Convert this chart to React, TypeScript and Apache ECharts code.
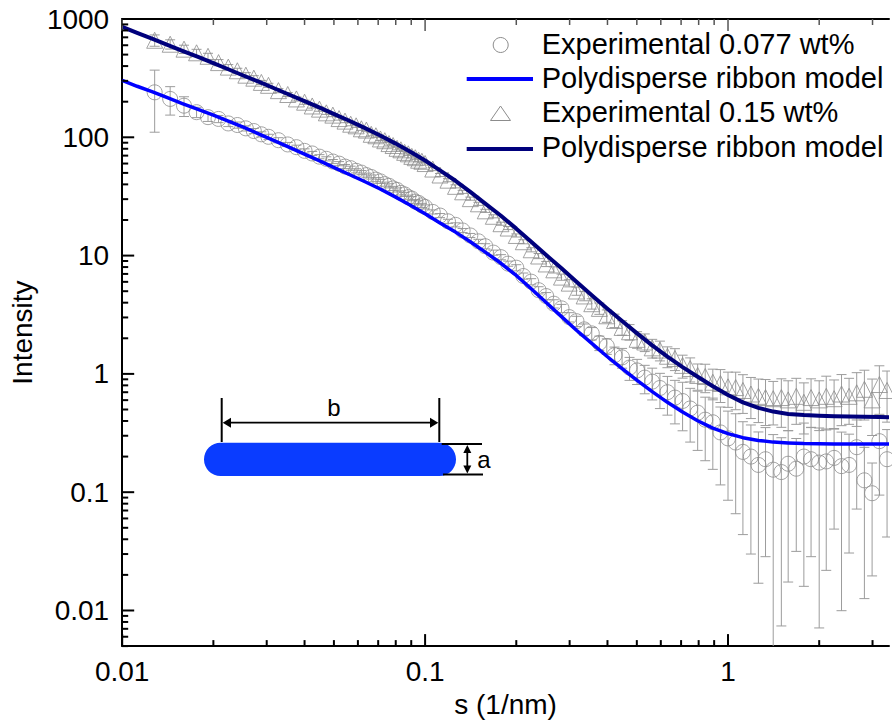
import React, { useEffect, useRef } from 'react';
import * as echarts from 'echarts';

// ---------- data ----------
const S = [
  0.0128, 0.0144, 0.016, 0.0176, 0.0192, 0.0208, 0.0224, 0.024, 0.0256, 0.0272, 0.0288, 0.0304,
  0.0328, 0.0352, 0.0376, 0.04, 0.0424, 0.0448, 0.0472, 0.0496, 0.052, 0.0544, 0.0568, 0.0592,
  0.0616, 0.064, 0.0664, 0.0688, 0.0712, 0.0736, 0.076, 0.0784, 0.0808, 0.0832, 0.0856, 0.088,
  0.0904, 0.0928, 0.0952, 0.0976, 0.1,
  0.106, 0.112, 0.119, 0.126, 0.133, 0.141, 0.15, 0.158, 0.168, 0.178, 0.188, 0.2, 0.211, 0.224,
  0.237, 0.251, 0.266, 0.282, 0.299, 0.316, 0.335, 0.355, 0.376, 0.398, 0.422, 0.447, 0.473, 0.501,
  0.531, 0.562, 0.596, 0.631, 0.668, 0.708, 0.75, 0.794, 0.841, 0.891, 0.944,
  1.0, 1.06, 1.12, 1.19, 1.26, 1.33, 1.41, 1.5, 1.58, 1.68, 1.78, 1.88, 2.0, 2.11, 2.24, 2.37,
  2.51, 2.66, 2.82, 2.99, 3.16, 3.35,
];

const I_077 = [
  240, 211, 185, 163, 148, 143, 131, 127, 119, 113, 106, 101, 94.5, 87.0, 82.5, 76.8, 73.0, 68.6,
  65.8, 62.4, 59.9, 56.6, 54.8, 52.1, 50.3, 47.9, 46.2, 43.9, 42.4, 40.2, 38.9, 37.0, 35.9, 33.9,
  32.9, 31.2, 30.3, 28.6, 27.9, 26.6, 25.8,
  23.4, 21.8, 19.5, 18.2, 16.3, 14.8, 13.2, 12.0, 10.6, 9.7, 8.55, 7.9, 6.72, 6.02, 5.1, 4.55,
  3.92, 3.58, 3.02, 2.79, 2.38, 2.2, 1.83, 1.72, 1.44, 1.38, 1.13, 1.07, 0.93, 0.86, 0.76, 0.7,
  0.63, 0.59, 0.51, 0.47, 0.41, 0.39, 0.32,
  0.285, 0.263, 0.219, 0.2, 0.17, 0.19, 0.155, 0.148, 0.174, 0.158, 0.2, 0.19, 0.178, 0.182,
  0.195, 0.166, 0.17, 0.24, 0.126, 0.098, 0.27, 0.19,
];
// relative errors, percent
const ERR_077 = [
  54, 27, 19, 10, 8, 7, 6, 6, 5, 5, 5, 5, 5, 4, 4, 4, 4, 4, 4, 4, 4, 4, 4, 4, 4, 4, 4, 4, 4, 4,
  4, 4, 4, 4, 4, 4, 4, 4, 4, 4, 4,
  4, 4, 4, 4, 4, 4, 4, 5, 5, 5, 5, 6, 6, 6, 7, 7, 8, 8, 9, 10, 11, 12, 14, 15, 17, 19, 22, 24,
  27, 30, 33, 36, 40, 44, 48, 52, 55, 60, 64,
  70, 75, 80, 85, 90, 85, 98, 95, 90, 80, 92, 85, 96, 88, 75, 94, 82, 70, 90, 80, 65, 78,
];

const I_015 = [
  661, 612, 556, 518, 484, 428, 392, 365, 335, 316, 291, 275, 248, 230, 211, 198, 184, 173, 161,
  154, 144, 137, 129, 125, 118, 115, 106, 103, 96.8, 93.6, 88.5, 85.2, 80.7, 78.4, 74.6, 72.5,
  69.0, 67.2, 64.0, 62.7, 60.0,
  53.9, 48.0, 43.4, 38.5, 34.6, 30.3, 27.4, 23.9, 21.5, 18.6, 17.1, 14.8, 13.1, 11.2, 9.92, 8.5,
  7.58, 6.58, 5.85, 5.02, 4.56, 3.92, 3.58, 3.1, 2.83, 2.47, 2.27, 1.96, 1.86, 1.66, 1.59, 1.41,
  1.35, 1.18, 1.11, 0.97, 0.95, 0.85, 0.83,
  0.778, 0.766, 0.724, 0.676, 0.646, 0.631, 0.617, 0.631, 0.603, 0.646, 0.575, 0.631, 0.603,
  0.646, 0.617, 0.676, 0.646, 0.692, 0.741, 0.603, 0.813, 0.724,
];
const ERR_015 = [
  11, 9, 8, 7, 6, 6, 5, 5, 5, 5, 4, 4, 4, 4, 4, 4, 4, 4, 3, 3, 3, 3, 3, 3, 3, 3, 3, 3, 3, 3, 3,
  3, 3, 3, 3, 3, 3, 3, 3, 3, 3,
  3, 3, 3, 3, 3, 3, 3, 3, 3, 3, 3, 3, 4, 4, 5, 5, 6, 6, 7, 8, 9, 10, 11, 12, 13, 14, 15, 16, 17,
  18, 19, 20, 21, 22, 23, 25, 27, 29, 31,
  33, 35, 36, 38, 40, 42, 40, 44, 45, 42, 46, 44, 45, 48, 44, 46, 42, 48, 45, 50, 44, 46,
];

const MODEL_S = [
  0.01, 0.0112, 0.0126, 0.0141, 0.0158, 0.0178, 0.02, 0.0224, 0.0251, 0.0282, 0.0316, 0.0355,
  0.0398, 0.0447, 0.0501, 0.0562, 0.0631, 0.0708, 0.0794, 0.0891, 0.1, 0.112, 0.126, 0.141, 0.158,
  0.178, 0.2, 0.224, 0.251, 0.282, 0.316, 0.355, 0.398, 0.447, 0.501, 0.562, 0.631, 0.708, 0.794,
  0.891, 1, 1.12, 1.26, 1.41, 1.58, 1.78, 2, 2.24, 2.51, 2.82, 3.16, 3.4,
];
const MODEL_077 = [
  303, 270, 242, 216, 193, 172, 154, 137, 122, 107, 94.3, 82.7, 72.4, 63.5, 55.5, 48.5, 42.3,
  36.7, 31.5, 26.8, 22.6, 18.9, 15.8, 13.1, 10.7, 8.61, 6.79, 5.25, 4.01, 3.05, 2.34, 1.81, 1.41,
  1.11, 0.881, 0.708, 0.575, 0.476, 0.402, 0.348, 0.313, 0.289, 0.274, 0.265, 0.261, 0.258, 0.257,
  0.256, 0.256, 0.256, 0.256, 0.256,
];
const MODEL_015 = [
  857, 764, 680, 605, 538, 478, 424, 376, 333, 295, 261, 230, 203, 179, 157, 138, 120, 104, 89.3,
  75.9, 63.6, 52.6, 42.9, 34.6, 27.5, 21.7, 16.9, 13.1, 10.1, 7.8, 6.0, 4.63, 3.59, 2.8, 2.2,
  1.74, 1.4, 1.14, 0.947, 0.786, 0.663, 0.574, 0.516, 0.48, 0.459, 0.449, 0.443, 0.439, 0.436,
  0.434, 0.432, 0.431,
];

const X_TICK_LABELS = ['0.01', '0.1', '1'];
const Y_TICK_LABELS = ['0.01', '0.1', '1', '10', '100', '1000'];
const LEGEND_LABELS = [
  'Experimental 0.077 wt%',
  'Polydisperse ribbon model',
  'Experimental 0.15 wt%',
  'Polydisperse ribbon model',
];

// ---------- layout / style ----------
const FONT = '"Liberation Sans", Arial, Helvetica, sans-serif';
const X_MIN = 0.01;
const X_MAX = 3.4;
const Y_MIN = 0.005;
const Y_MAX = 1000;
const MARK_GREY = '#8c8c8c';
const BAR_GREY = '#9c9c9c';
const BLUE = '#0000ff';
const NAVY = '#00007c';

function powLabel(v: number): string {
  const e = Math.log10(v);
  const r = Math.round(e);
  if (Math.abs(e - r) > 1e-6) return '';
  const all = [...X_TICK_LABELS, ...Y_TICK_LABELS];
  const txt = r >= 0 ? String(Math.pow(10, r)) : '0.' + '0'.repeat(-r - 1) + '1';
  return all.includes(txt) ? txt : '';
}

function decadeTicks(min: number, max: number) {
  const major: number[] = [];
  const minor: number[] = [];
  for (let e = -4; e <= 4; e++) {
    for (let k = 1; k <= 9; k++) {
      const v = parseFloat((k * Math.pow(10, e)).toPrecision(6));
      if (v < min * 0.999 || v > max * 1.001) continue;
      if (k === 1) major.push(v);
      else minor.push(v);
    }
  }
  return { major, minor };
}

function errorBarData(ys: number[], errs: number[]) {
  return S.map((s, i) => {
    const y = ys[i];
    const d = (y * errs[i]) / 100;
    return [s, Math.max(y - d, Y_MIN * 0.5), y + d];
  });
}

function errorBarSeries(ys: number[], errs: number[]) {
  return {
    type: 'custom',
    silent: true,
    z: 1,
    clip: true,
    encode: { x: 0, y: [1, 2] },
    data: errorBarData(ys, errs),
    renderItem: (_p: any, api: any) => {
      const x = api.value(0);
      const lo = api.coord([x, api.value(1)]);
      const hi = api.coord([x, api.value(2)]);
      const w = 5;
      const st = { stroke: BAR_GREY, lineWidth: 1 };
      return {
        type: 'group',
        children: [
          { type: 'line', shape: { x1: lo[0], y1: lo[1], x2: hi[0], y2: hi[1] }, style: st },
          { type: 'line', shape: { x1: lo[0] - w, y1: lo[1], x2: lo[0] + w, y2: lo[1] }, style: st },
          { type: 'line', shape: { x1: hi[0] - w, y1: hi[1], x2: hi[0] + w, y2: hi[1] }, style: st },
        ],
      };
    },
  };
}

function xTickSeries(vals: number[], len: number) {
  return {
    type: 'custom',
    silent: true,
    z: 20,
    clip: false,
    data: vals.map((v) => [v, 1]),
    renderItem: (_p: any, api: any) => {
      const x = api.value(0);
      const b = api.coord([x, Y_MIN]);
      const t = api.coord([x, Y_MAX]);
      return {
        type: 'group',
        children: [
          { type: 'line', shape: { x1: b[0], y1: b[1], x2: b[0], y2: b[1] - len }, style: { stroke: '#000', lineWidth: 2 } },
          { type: 'line', shape: { x1: t[0], y1: t[1], x2: t[0], y2: t[1] + len }, style: { stroke: '#555', lineWidth: 1.5 } },
        ],
      };
    },
  };
}

function yTickSeries(vals: number[], len: number) {
  return {
    type: 'custom',
    silent: true,
    z: 20,
    clip: false,
    data: vals.map((v) => [1, v]),
    renderItem: (_p: any, api: any) => {
      const y = api.value(1);
      const l = api.coord([X_MIN, y]);
      return {
        type: 'line',
        shape: { x1: l[0], y1: l[1], x2: l[0] + len, y2: l[1] },
        style: { stroke: '#000', lineWidth: 2 },
      };
    },
  };
}

function legendGraphic() {
  const textX = 541.7;
  const rows = [43.5, 78.3, 112, 147];
  const els: any[] = [
    { type: 'circle', z: 100, shape: { cx: 500.7, cy: 45, r: 7.5 }, style: { fill: 'none', stroke: MARK_GREY, lineWidth: 1 } },
    { type: 'line', z: 100, shape: { x1: 466.7, y1: 79, x2: 533, y2: 79 }, style: { stroke: BLUE, lineWidth: 4 } },
    { type: 'polygon', z: 100, shape: { points: [[500.5, 106], [510.5, 120.5], [490.5, 120.5]] }, style: { fill: 'none', stroke: MARK_GREY, lineWidth: 1 } },
    { type: 'line', z: 100, shape: { x1: 466.7, y1: 149, x2: 533, y2: 149 }, style: { stroke: NAVY, lineWidth: 4 } },
  ];
  LEGEND_LABELS.forEach((t, i) => {
    els.push({
      type: 'text', z: 100, x: textX, y: rows[i],
      style: { text: t, fontSize: 29, fontFamily: FONT, fill: '#000', align: 'left', verticalAlign: 'middle', textAlign: 'left', textVerticalAlign: 'middle' },
    });
  });
  return els;
}

export default function App() {
  const ref = useRef<HTMLDivElement>(null);

  useEffect(() => {
    if (!ref.current) return;
    const chart = echarts.init(ref.current, null, { renderer: 'svg' });
    const xt = decadeTicks(X_MIN, X_MAX);
    const yt = decadeTicks(Y_MIN, Y_MAX);
    const labelStyle = { fontSize: 28, color: '#000', fontFamily: FONT };
    const lineW = 2;

    const option: any = {
      animation: false,
      backgroundColor: '#fff',
      grid: { left: 120, right: 0, top: 19, bottom: 74, containLabel: false },
      xAxis: [
        {
          type: 'log',
          logBase: 10,
          min: X_MIN,
          max: X_MAX,
          position: 'bottom',
          axisLine: { show: true, onZero: false, lineStyle: { color: '#000', width: lineW } },
          axisTick: { show: false },
          splitLine: { show: false },
          axisLabel: { ...labelStyle, margin: 11, formatter: (v: number) => powLabel(v) },
          name: 's (1/nm)',
          nameLocation: 'middle',
          nameGap: 40,
          nameTextStyle: { ...labelStyle },
        },
        {
          type: 'log',
          logBase: 10,
          min: X_MIN,
          max: X_MAX,
          position: 'top',
          axisLine: { show: true, onZero: false, lineStyle: { color: '#000', width: lineW } },
          axisTick: { show: false },
          axisLabel: { show: false },
          splitLine: { show: false },
        },
      ],
      yAxis: {
        type: 'log',
        logBase: 10,
        min: Y_MIN,
        max: Y_MAX,
        axisLine: { show: true, onZero: false, lineStyle: { color: '#000', width: lineW } },
        axisTick: { show: false },
        splitLine: { show: false },
        axisLabel: { ...labelStyle, margin: 13, formatter: (v: number) => powLabel(v) },
        name: 'Intensity',
        nameLocation: 'middle',
        nameGap: 80,
        nameTextStyle: { ...labelStyle },
      },
      series: [
        errorBarSeries(I_077, ERR_077),
        errorBarSeries(I_015, ERR_015),
        {
          name: LEGEND_LABELS[0],
          type: 'scatter',
          symbol: 'circle',
          symbolSize: 15,
          z: 2,
          clip: true,
          itemStyle: { color: 'rgba(255,255,255,0)', borderColor: MARK_GREY, borderWidth: 1 },
          data: S.map((s, i) => [s, I_077[i]]),
        },
        {
          name: LEGEND_LABELS[2],
          type: 'scatter',
          symbol: 'triangle',
          symbolSize: 16,
          z: 2,
          clip: true,
          itemStyle: { color: 'rgba(255,255,255,0)', borderColor: MARK_GREY, borderWidth: 1 },
          data: S.map((s, i) => [s, I_015[i]]),
        },
        {
          name: LEGEND_LABELS[1] + ' (0.077 wt%)',
          type: 'line',
          symbol: 'none',
          smooth: false,
          z: 5,
          clip: true,
          itemStyle: { color: BLUE },
          lineStyle: { color: BLUE, width: 3.5, join: 'round' },
          data: MODEL_S.map((s, i) => [s, MODEL_077[i]]),
        },
        {
          name: LEGEND_LABELS[3] + ' (0.15 wt%)',
          type: 'line',
          symbol: 'none',
          smooth: false,
          z: 5,
          clip: true,
          itemStyle: { color: NAVY },
          lineStyle: { color: NAVY, width: 4, join: 'round' },
          data: MODEL_S.map((s, i) => [s, MODEL_015[i]]),
        },
        xTickSeries(xt.major, 12),
        xTickSeries(xt.minor, 6),
        yTickSeries(yt.major, 12),
        yTickSeries(yt.minor, 6),
      ],
      graphic: [
        ...legendGraphic(),
        { type: 'rect', z: 100, shape: { x: 204, y: 442.7, width: 252, height: 33.3, r: 16.6 }, style: { fill: '#0a3cff' } },
        { type: 'line', z: 100, shape: { x1: 221.7, y1: 398, x2: 221.7, y2: 442 }, style: { stroke: '#000', lineWidth: 2 } },
        { type: 'line', z: 100, shape: { x1: 439.3, y1: 398, x2: 439.3, y2: 442 }, style: { stroke: '#000', lineWidth: 2 } },
        { type: 'line', z: 100, shape: { x1: 228, y1: 422.7, x2: 433, y2: 422.7 }, style: { stroke: '#000', lineWidth: 1.8 } },
        { type: 'polygon', z: 100, shape: { points: [[222.7, 422.7], [231, 417.7], [231, 427.7]] }, style: { fill: '#000' } },
        { type: 'polygon', z: 100, shape: { points: [[438.3, 422.7], [430, 417.7], [430, 427.7]] }, style: { fill: '#000' } },
        {
          type: 'text', z: 100, x: 334, y: 407,
          style: { text: 'b', fontSize: 24, fontFamily: FONT, fill: '#000', align: 'center', verticalAlign: 'middle', textAlign: 'center', textVerticalAlign: 'middle' },
        },
        { type: 'line', z: 100, shape: { x1: 441.7, y1: 444, x2: 482, y2: 444 }, style: { stroke: '#000', lineWidth: 1.8 } },
        { type: 'line', z: 100, shape: { x1: 443, y1: 474.5, x2: 483, y2: 474.5 }, style: { stroke: '#000', lineWidth: 1.8 } },
        { type: 'line', z: 100, shape: { x1: 467.3, y1: 449, x2: 467.3, y2: 470 }, style: { stroke: '#000', lineWidth: 1.8 } },
        { type: 'polygon', z: 100, shape: { points: [[467.3, 445], [463.3, 453], [471.3, 453]] }, style: { fill: '#000' } },
        { type: 'polygon', z: 100, shape: { points: [[467.3, 473.5], [463.3, 465.5], [471.3, 465.5]] }, style: { fill: '#000' } },
        {
          type: 'text', z: 100, x: 484, y: 459,
          style: { text: 'a', fontSize: 24, fontFamily: FONT, fill: '#000', align: 'center', verticalAlign: 'middle', textAlign: 'center', textVerticalAlign: 'middle' },
        },
      ],
    };

    chart.setOption(option);
    return () => chart.dispose();
  }, []);

  return (
    <div
      ref={ref}
      style={{ position: 'absolute', left: 0, top: 0, width: 892, height: 723, background: '#fff' }}
    />
  );
}
